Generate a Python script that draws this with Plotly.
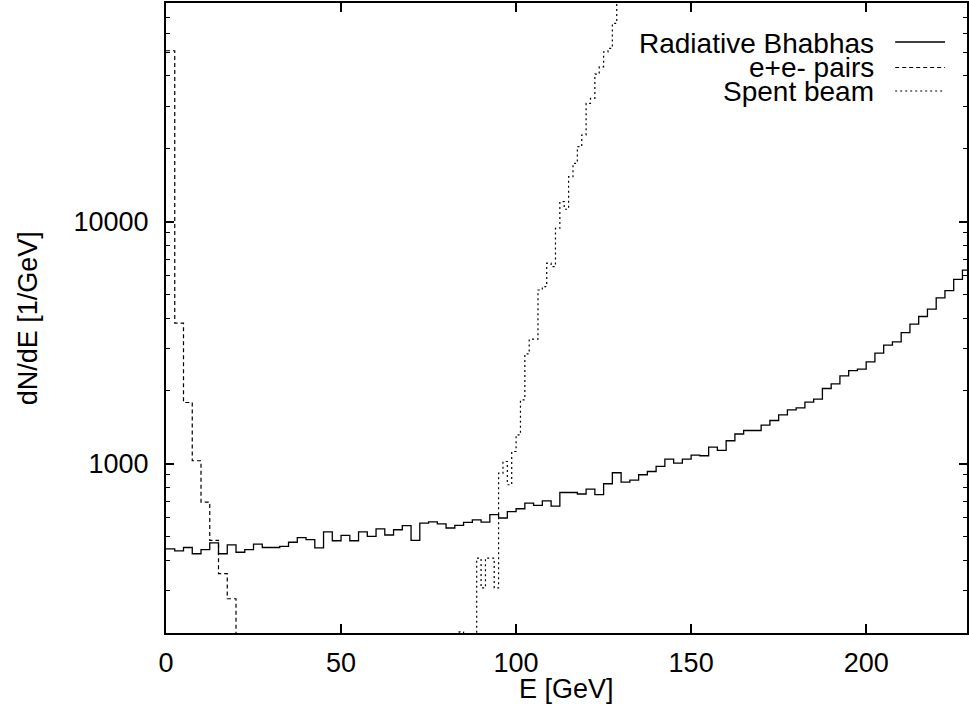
import numpy as np
import plotly.graph_objects as go

# ---------------- data ----------------
# Radiative Bhabhas: 2.5 GeV bins starting at 0 GeV
bhabha_start = 0.0
bhabha_width = 2.5
bhabha_vals = [
    445, 437, 451, 425, 442, 471, 425, 462, 431, 442,
    466, 451, 451, 456, 474, 495, 486, 449, 523, 481,
    506, 481, 523, 501, 538, 508, 534, 555, 483, 569,
    575, 565, 543, 557, 573, 586, 574, 616, 597, 634,
    652, 688, 673, 702, 669, 761, 761, 750, 786, 745,
    827, 918, 840, 856, 901, 929, 975, 1046, 1007, 1046,
    1086, 1079, 1172, 1135, 1245, 1327, 1372, 1372, 1444, 1509,
    1593, 1670, 1702, 1798, 1850, 2046, 2139, 2307, 2427, 2460,
    2637, 2864, 3090, 3187, 3483, 3773, 4057, 4350, 4840, 5190,
    5780, 6310,
]

# e+e- pairs: 2.5 GeV bins starting at 0 GeV
pairs_start = 0.0
pairs_width = 2.5
pairs_vals = [50800, 3808, 1791, 1029, 695, 483, 352, 277, 150]

# Spent beam: 1.25 GeV bins starting at 82.5 GeV
spent_start = 82.5
spent_width = 1.25
spent_vals = [
    150, 202, 150, 150, 150,          # 82.5 - 88.75
    408, 307, 408, 408, 307,          # 88.75 - 95
    915, 1022, 819, 1124, 1317,       # 95 - 101.25
    1837, 2845, 3270, 3270, 5220,     # 101.25 - 107.5
    5395, 6735, 6520, 9390, 12090,    # 107.5 - 113.75
    11250, 15340, 17420, 20400, 22800,  # 113.75 - 120
    30800, 32300, 40700, 43600, 50300,  # 120 - 126.25
    51950, 65900, 95000,              # 126.25 - 130
]

x_ticks = [0, 50, 100, 150, 200]
y_ticks = [1000, 10000]
y_ticktext = ["1000", "10000"]
y_minor = [200, 300, 400, 500, 600, 700, 800, 900,
           2000, 3000, 4000, 5000, 6000, 7000, 8000, 9000,
           20000, 30000, 40000, 50000, 60000, 70000, 80000]

series_names = ["Radiative Bhabhas", "e+e- pairs", "Spent beam"]


def steps(x0, w, vals):
    edges = [x0 + i * w for i in range(len(vals) + 1)]
    ys = list(vals) + [vals[-1]]
    return edges, ys


FONT = "Liberation Sans, Arial, Helvetica, sans-serif"
FS = 27

fig = go.Figure()
styles = [("solid", 1.3), ("4px,3px", 1.2), ("2px,3px", 1.2)]
for (start, width, vals), name, (dash, lw) in zip(
        [(bhabha_start, bhabha_width, bhabha_vals),
         (pairs_start, pairs_width, pairs_vals),
         (spent_start, spent_width, spent_vals)],
        series_names, styles):
    xs, ys = steps(start, width, vals)
    fig.add_trace(go.Scatter(x=xs, y=ys, mode="lines", name=name,
                             line=dict(shape="hv", color="black", width=lw, dash=dash),
                             showlegend=False, hoverinfo="skip"))

W, H = 969, 706
L, R, T, B = 166, 0, 3, 73
pw, ph = W - L - R, H - T - B


def px(xp):
    return (xp - L) / pw


def py(yp):
    return (H - B - yp) / ph


annotations = [
    dict(text="E [GeV]", x=0.5, y=py(689), xref="paper", yref="paper",
         showarrow=False, xanchor="center", yanchor="middle",
         font=dict(family=FONT, size=FS, color="black")),
    dict(text="dN/dE [1/GeV]", x=px(28), y=0.5, xref="paper", yref="paper",
         showarrow=False, xanchor="center", yanchor="middle", textangle=-90,
         font=dict(family=FONT, size=FS, color="black")),
]
shapes = []
rows_text_y = [43.5, 67.7, 91.7]
rows_line_y = [42, 67.5, 91]
for name, ty, ly, (dash, lw) in zip(series_names, rows_text_y, rows_line_y, styles):
    annotations.append(dict(text=name, x=px(878), y=py(ty), xref="paper", yref="paper",
                            showarrow=False, xanchor="right", yanchor="middle",
                            font=dict(family=FONT, size=28, color="black")))
    shapes.append(dict(type="line", xref="paper", yref="paper",
                       x0=px(897), x1=px(947), y0=py(ly), y1=py(ly),
                       line=dict(color="black", width=lw, dash=dash)))

fig.update_layout(
    width=W, height=H,
    margin=dict(l=L, r=R, t=T, b=B, pad=0),
    paper_bgcolor="white", plot_bgcolor="white",
    font=dict(family=FONT, size=FS, color="black"),
    annotations=annotations, shapes=shapes,
    xaxis=dict(range=[0, 228.8], tickmode="array", tickvals=x_ticks,
               ticks="inside", ticklen=9, tickwidth=1.5, tickcolor="black",
               showline=True, linewidth=2, linecolor="black", mirror="ticks",
               showgrid=False, zeroline=False,
               tickfont=dict(family=FONT, size=FS, color="black"),
               ticklabelstandoff=5),
    yaxis=dict(type="log", range=[np.log10(200), np.log10(80000)],
               tickmode="array", tickvals=y_ticks, ticktext=y_ticktext,
               ticks="inside", ticklen=8, tickwidth=1.5, tickcolor="black",
               minor=dict(ticks="inside", ticklen=4, tickwidth=1.2, tickcolor="black",
                          tickmode="array", tickvals=y_minor, showgrid=False),
               showline=True, linewidth=2, linecolor="black", mirror="ticks",
               showgrid=False, zeroline=False,
               tickfont=dict(family=FONT, size=FS, color="black"),
               ticklabelstandoff=10),
)

fig.write_html("out.html")
